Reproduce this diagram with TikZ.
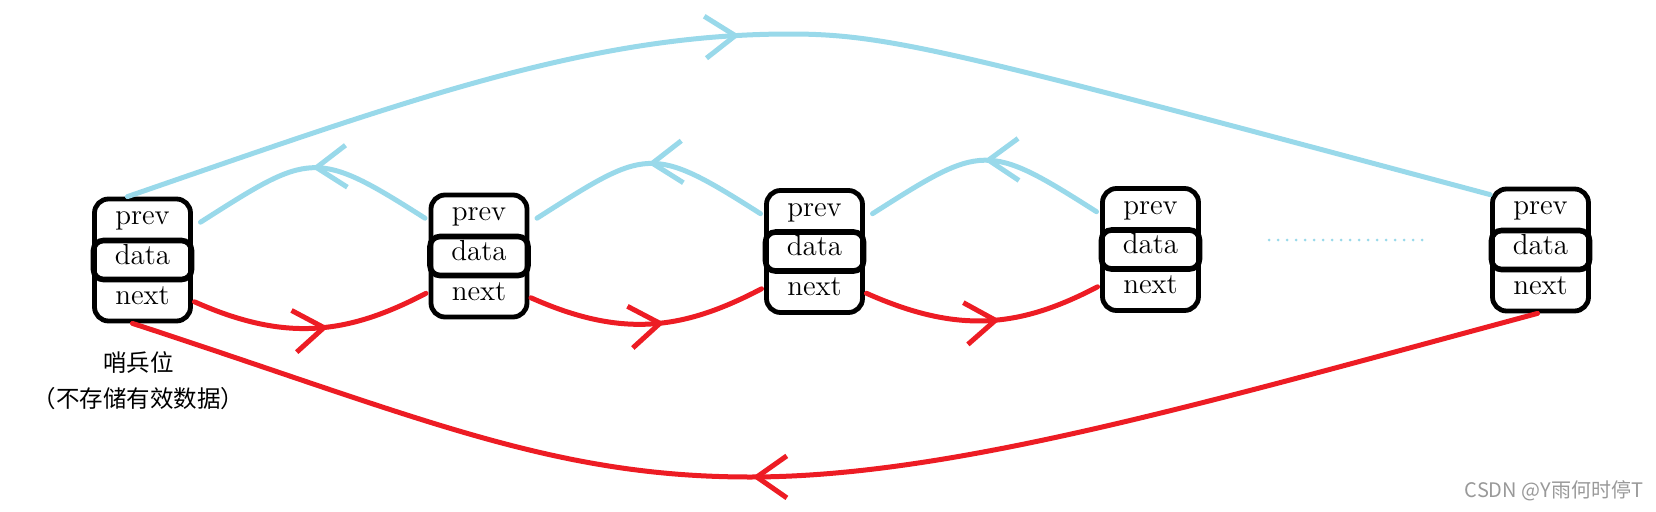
\documentclass[tikz,border=0pt]{standalone}
\usepackage{fontspec}
\newfontfamily\cjk{Noto Sans CJK SC}
\usetikzlibrary{arrows.meta,positioning,decorations.markings}
\definecolor{prevblue}{RGB}{153,217,234}
\definecolor{nextred}{RGB}{237,28,36}

\begin{document}
\begin{tikzpicture}[x=0.5pt, y=0.5pt,
	frame/.style={draw, line width=2.4pt, rounded corners=7pt, minimum width=48pt, minimum height=61pt, inner sep=0pt},
	datacell/.style={draw, line width=2.8pt, rounded corners=5pt, minimum width=49pt, minimum height=19.5pt, inner sep=0pt},
	cell/.style={minimum width=48pt, minimum height=17.5pt, inner sep=0pt, outer sep=0pt},
	field/.style={font=\fontsize{14.5}{16}\selectfont, text height=1ex, text depth=0pt},
	link/.style={line width=2.5pt, line cap=round, postaction={decorate},
		decoration={markings, mark=at position #1 with {\arrow{Straight Barb[length=15pt, width=21pt]}}}},
	prevlink/.style={link=#1, color=prevblue},
	nextlink/.style={link=#1, color=nextred}]
	\useasboundingbox (0,0) rectangle (1656,511);

	\foreach \i/\x/\y in {1/142.5/251, 2/479/255, 3/814.5/259.5, 4/1150.5/261.5, 5/1540.5/261} {
		\node[frame] (box\i) at (\x,\y) {};
		\node[datacell, field] (d\i) at (box\i.center) {data};
		\node[cell, field, above=0pt of d\i] (p\i) {prev};
		\node[cell, field, below=0pt of d\i] (n\i) {next};
	}

	\foreach \i/\j in {1/2, 2/3, 3/4} {
		\draw[prevlink=0.5] ([xshift=-3pt, yshift=-1pt]p\j.west) .. controls +(-110,70) and +(110,70) .. ([xshift=5pt, yshift=-1pt]p\i.east);
		\draw[nextlink=0.57] ([xshift=2pt, yshift=-1pt]n\i.east) .. controls +(90,-40) and +(-80,-42) .. ([xshift=-2.5pt, yshift=1.25pt]n\j.west);
	}

	\coordinate (arcTop) at (790,477);
	\coordinate (arcBot) at (750,34);
	\draw[prevlink=0.452] ([xshift=-7.5pt]box1.north) .. controls +(284,98) and +(-200,0) .. (arcTop)
		.. controls +(100,0) and +(-531,142) .. ([yshift=-4pt]box5.north west);
	\draw[nextlink=0.556] ([xshift=-1.5pt]box5.south) .. controls +(-338,-91) and +(200,0) .. (arcBot)
		.. controls +(-200,0) and +(285,-93) .. ([xshift=-5pt]box1.south);

	\coordinate (dotsL) at (1269,271);
	\coordinate (dotsR) at (1424,271);
	\draw[prevblue, line width=1.5pt, dash pattern=on 0pt off 4.5pt, line cap=round] (dotsL) -- (dotsR);

	\node[below=14pt of box1, xshift=-2pt, align=center, inner sep=0pt, font=\cjk\fontsize{11.75}{18}\selectfont] (sentinel) {哨兵位\\（不存储有效数据）};
	\node[text=black!40, font=\cjk\fontsize{10}{12}\selectfont] (wm) at (1554,20) {CSDN @Y雨何时停T};
\end{tikzpicture}
\end{document}
